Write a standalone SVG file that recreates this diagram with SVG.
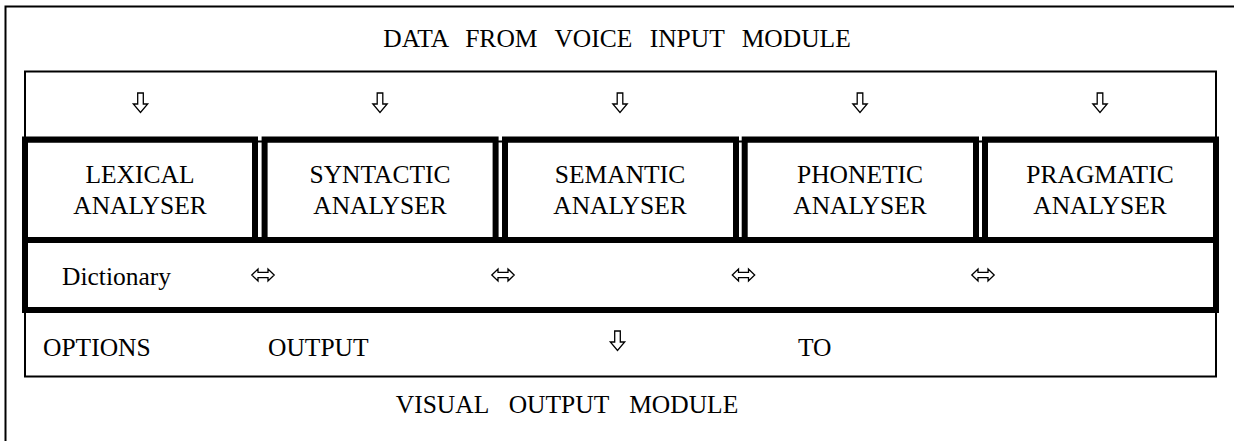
<svg xmlns="http://www.w3.org/2000/svg" width="1234" height="441" viewBox="0 0 1234 441">
<style>
.thin{fill:none;stroke:#000;stroke-width:2}
.thick{fill:none;stroke:#000;stroke-width:6}
.t{font-family:"Liberation Serif","Times New Roman",serif;font-size:25.5px;fill:#000;text-anchor:middle}
.ts{font-family:"Liberation Serif","Times New Roman",serif;font-size:25.5px;fill:#000}
.ar{fill:#fff;stroke:#000;stroke-width:1.3;stroke-linejoin:miter}
</style>
<defs>
<path id="dn" class="ar" d="M-2.8,-10 H2.8 V1 H7.2 L0,9.5 L-7.2,1 H-2.8 Z"/>
<path id="lr" class="ar" d="M-11.2,0 L-5,-6 V-2.6 H5 V-6 L11.2,0 L5,6 V2.6 H-5 V6 Z"/>
</defs>
<rect width="1234" height="441" fill="#fff"/>
<g id="frame">
<path class="thin" d="M1240,6.5 H5.5 V441"/>
<text class="t" x="617" y="47" word-spacing="11">DATA FROM VOICE INPUT MODULE</text>
</g>
<g id="input-band">
<rect class="thin" x="25" y="71.5" width="1191" height="70"/>
</g>
<g id="lexical">
<rect class="thick" x="25" y="139.5" width="230" height="100.5"/>
<text class="t" x="140" y="183">LEXICAL</text>
<text class="t" x="140" y="214">ANALYSER</text>
</g>
<g id="syntactic">
<rect class="thick" x="264.6" y="139.5" width="231" height="100.5"/>
<text class="t" x="380" y="183">SYNTACTIC</text>
<text class="t" x="380" y="214">ANALYSER</text>
</g>
<g id="semantic">
<rect class="thick" x="505" y="139.5" width="231" height="100.5"/>
<text class="t" x="620" y="183">SEMANTIC</text>
<text class="t" x="620" y="214">ANALYSER</text>
</g>
<g id="phonetic">
<rect class="thick" x="744.7" y="139.5" width="231.3" height="100.5"/>
<text class="t" x="860" y="183">PHONETIC</text>
<text class="t" x="860" y="214">ANALYSER</text>
</g>
<g id="pragmatic">
<rect class="thick" x="985" y="139.5" width="231" height="100.5"/>
<text class="t" x="1100" y="183">PRAGMATIC</text>
<text class="t" x="1100" y="214">ANALYSER</text>
</g>
<g id="dictionary">
<rect class="thick" x="25" y="240" width="1191" height="70"/>
<text class="ts" x="62" y="285">Dictionary</text>
</g>
<g id="output-band">
<rect class="thin" x="25" y="311" width="1191" height="65.5"/>
<text class="ts" x="43" y="356">OPTIONS</text>
<text class="ts" x="268" y="356">OUTPUT</text>
<text class="ts" x="798" y="356">TO</text>
</g>
<g id="visual-output">
<text class="t" x="567" y="413" word-spacing="14">VISUAL OUTPUT MODULE</text>
</g>
<g id="connectors">
<use href="#dn" x="140.5" y="103"/>
<use href="#dn" x="380" y="103"/>
<use href="#dn" x="620" y="103"/>
<use href="#dn" x="860" y="103"/>
<use href="#dn" x="1100" y="103"/>
<use href="#lr" x="263" y="275"/>
<use href="#lr" x="503" y="275"/>
<use href="#lr" x="743.5" y="275"/>
<use href="#lr" x="983" y="275"/>
<use href="#dn" x="617.5" y="341"/>
</g>
</svg>
